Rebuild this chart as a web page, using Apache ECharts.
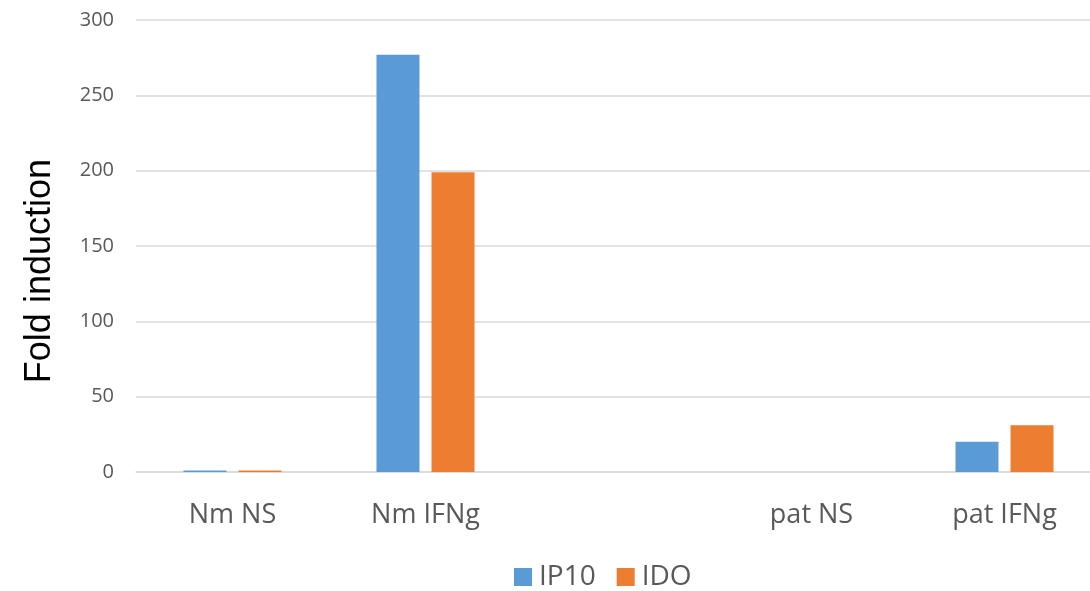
<!DOCTYPE html>
<html>
<head>
<meta charset="utf-8">
<script src="https://cdn.jsdelivr.net/npm/echarts@6/dist/echarts.min.js"></script>
<style>
  html, body { margin: 0; padding: 0; background: #ffffff; overflow: hidden; }
  /* the plot area runs a little past the right edge of the page */
  #chart { width: 1101px; height: 591px; }
</style>
</head>
<body>
<div id="chart"></div>
<script>
// Sample groups (the empty slot keeps a gap between the two donor groups)
const categories = ['Nm NS', 'Nm IFNg', '', 'pat NS', 'pat IFNg'];
// Fold induction per gene
const ip10 = [1, 277, null, 0, 20];
const ido = [1, 199, null, 0, 31];
const yTicks = { min: 0, max: 300, interval: 50 };

const tickFont = '"Open Sans", "Noto Sans", sans-serif';
const chart = echarts.init(document.getElementById('chart'), null, { renderer: 'canvas' });

chart.setOption({
  backgroundColor: '#ffffff',
  animation: false,
  grid: { left: 136, top: 20, right: 0, height: 452, containLabel: false },
  legend: {
    left: 509,
    top: 558,
    icon: 'rect',
    itemWidth: 18,
    itemHeight: 18,
    itemGap: 21,
    textStyle: { fontFamily: tickFont, fontSize: 28, color: '#595959', padding: [0, 0, 0, 2] },
    data: ['IP10', 'IDO']
  },
  xAxis: {
    type: 'category',
    data: categories,
    axisLine: { show: true, lineStyle: { color: '#d9d9d9', width: 1.5 } },
    axisTick: { show: false },
    axisLabel: { fontFamily: tickFont, fontSize: 27, color: '#595959', margin: 30, interval: 0 },
    splitLine: { show: false }
  },
  yAxis: {
    type: 'value',
    min: yTicks.min,
    max: yTicks.max,
    interval: yTicks.interval,
    axisLine: { show: false },
    axisTick: { show: false },
    axisLabel: { fontFamily: tickFont, fontSize: 20, color: '#595959', margin: 22 },
    splitLine: { lineStyle: { color: '#d9d9d9', width: 1.5 } }
  },
  graphic: [{
    type: 'text',
    left: 22,
    top: 159,
    rotation: Math.PI / 2,
    style: {
      text: 'Fold induction',
      font: '36px "Liberation Sans", Arial, sans-serif',
      fill: '#000000'
    }
  }],
  series: [
    {
      name: 'IP10',
      type: 'bar',
      data: ip10,
      barWidth: 43,
      barGap: '28%',
      itemStyle: { color: '#5b9bd5' }
    },
    {
      name: 'IDO',
      type: 'bar',
      data: ido,
      barWidth: 43,
      barGap: '28%',
      itemStyle: { color: '#ed7d31' }
    }
  ]
});
</script>
</body>
</html>
